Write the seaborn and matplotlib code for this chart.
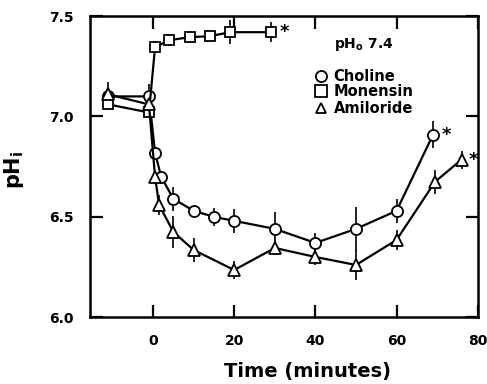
import matplotlib
matplotlib.use("Agg")
import matplotlib.pyplot as plt
import seaborn as sns
import pandas as pd

# Intracellular pH time course at pHo 7.4
choline_t = [-11, -1, 0.5, 2, 5, 10, 15, 20, 30, 40, 50, 60, 69]
choline_ph = [7.10, 7.10, 6.82, 6.70, 6.59, 6.53, 6.50, 6.48, 6.44, 6.37, 6.44, 6.53, 6.91]
choline_err = [0.03, 0.06, 0.03, 0.03, 0.06, 0.02, 0.045, 0.06, 0.085, 0.05, 0.11, 0.06, 0.065]

monensin_t = [-11, -1, 0.5, 4, 9, 14, 19, 29]
monensin_ph = [7.06, 7.02, 7.345, 7.38, 7.395, 7.40, 7.42, 7.42]
monensin_err = [0.03, 0.02, 0.02, 0.03, 0.03, 0.03, 0.06, 0.05]

amiloride_t = [-11, -1, 0.5, 1.5, 5, 10, 20, 30, 40, 50, 60, 69.5, 76]
amiloride_ph = [7.11, 7.06, 6.70, 6.56, 6.425, 6.335, 6.235, 6.345, 6.30, 6.26, 6.385, 6.675, 6.785]
amiloride_err = [0.06, 0.03, 0.03, 0.05, 0.08, 0.06, 0.045, 0.035, 0.04, 0.075, 0.05, 0.06, 0.045]

x_ticks = [0, 20, 40, 60, 80]
y_ticks = [6.0, 6.5, 7.0, 7.5]

sns.set_style("ticks", {"axes.edgecolor": "black", "text.color": "black",
                        "axes.labelcolor": "black", "xtick.color": "black",
                        "ytick.color": "black"})
plt.rcParams["font.family"] = ["DejaVu Sans"]
plt.rcParams["font.weight"] = "bold"

fig = plt.figure(figsize=(4.87, 3.84), dpi=100)
ax = fig.add_axes([0.185, 0.174, 0.796, 0.784])

series = [
    ("Choline", choline_t, choline_ph, choline_err, "o", 8),
    ("Monensin", monensin_t, monensin_ph, monensin_err, "s", 7.5),
    ("Amiloride", amiloride_t, amiloride_ph, amiloride_err, "^", 8),
]

for name, t, ph, err, mk, ms in series:
    df = pd.DataFrame({"time": t, "ph": ph})
    ax.vlines(t, [p - e for p, e in zip(ph, err)], [p + e for p, e in zip(ph, err)],
              color="black", linewidth=1.2, zorder=2)
    sns.lineplot(data=df, x="time", y="ph", ax=ax, color="black", linewidth=1.6,
                 marker=mk, markersize=ms, markerfacecolor="white",
                 markeredgecolor="black", markeredgewidth=1.3,
                 estimator=None, sort=False, zorder=3)

# significance marks after the last points
ax.text(monensin_t[-1] + 2.2, monensin_ph[-1], "*", fontsize=13, ha="left", va="center")
ax.text(choline_t[-1] + 2.2, choline_ph[-1], "*", fontsize=13, ha="left", va="center")
ax.text(amiloride_t[-1] + 1.8, amiloride_ph[-1], "*", fontsize=13, ha="left", va="center")

# legend block
ax.text(44.5, 7.36, r"pH$_\mathbf{o}$ 7.4", fontsize=10, fontweight="bold",
        ha="left", va="center")
legend_rows = [("o", "Choline", 7.20), ("s", "Monensin", 7.125), ("^", "Amiloride", 7.04)]
for mk, label, yv in legend_rows:
    ax.plot([41.5], [yv], marker=mk, markersize=8 if mk != "^" else 7,
            markerfacecolor="white", markeredgecolor="black", markeredgewidth=1.3,
            linestyle="none")
    ax.text(44.5, yv, label, fontsize=10.5, fontweight="bold", ha="left", va="center")

ax.set_xlim(-15.5, 80)
ax.set_ylim(6.0, 7.5)
ax.set_xticks(x_ticks)
ax.set_yticks(y_ticks)
ax.set_xticklabels([str(v) for v in x_ticks])
ax.set_yticklabels([f"{v:.1f}" for v in y_ticks])
ax.tick_params(direction="in", length=9, width=1.6, top=True, right=True,
               labelsize=10, pad=12, colors="black")
for lab in ax.get_xticklabels() + ax.get_yticklabels():
    lab.set_fontweight("bold")
for sp in ax.spines.values():
    sp.set_linewidth(1.8)
    sp.set_edgecolor("black")
    sp.set_visible(True)

ax.set_xlabel("Time (minutes)", fontsize=14, fontweight="bold", color="black")
ax.xaxis.set_label_coords(0.56, -0.15)
ax.set_ylabel(r"pH$_\mathbf{i}$", fontsize=15, fontweight="bold", color="black")
ax.yaxis.set_label_coords(-0.165, 0.49)

fig.savefig("out.png", dpi=100)
